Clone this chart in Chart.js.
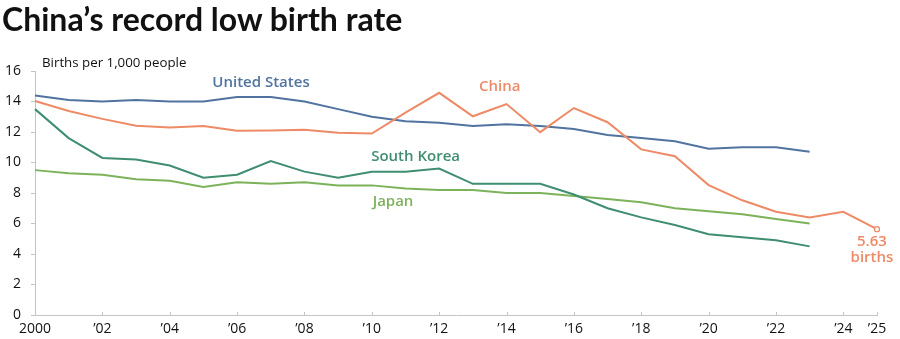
<!DOCTYPE html>
<html>
<head>
<meta charset="utf-8">
<script src="https://cdn.jsdelivr.net/npm/chart.js@4/dist/chart.umd.min.js"></script>
<style>
  html, body { margin: 0; padding: 0; background: #fff; }
  #wrap { position: relative; width: 900px; height: 339px; overflow: hidden; }
  #title { position: absolute; left: 2px; top: 0px; font-family: Lato, sans-serif; font-weight: 700; font-size: 32px; line-height: 38px; color: #111; white-space: nowrap; }
  #unit { position: absolute; left: 42px; top: 53px; font-family: "Open Sans", sans-serif; font-size: 13.3px; color: #111; white-space: nowrap; }
  canvas { position: absolute; left: 0; top: 0; }
</style>
</head>
<body>
<div id="wrap">
  <canvas id="c" width="900" height="339"></canvas>
  <div id="title">China’s record low birth rate</div>
  <div id="unit">Births per 1,000 people</div>
</div>
<script>
const years = [2000,2001,2002,2003,2004,2005,2006,2007,2008,2009,2010,2011,2012,2013,2014,2015,2016,2017,2018,2019,2020,2021,2022,2023,2024,2025];
const usValues = [14.4,14.1,14.0,14.1,14.0,14.0,14.3,14.3,14.0,13.5,13.0,12.7,12.6,12.4,12.5,12.4,12.2,11.8,11.6,11.4,10.9,11.0,11.0,10.7];
const chinaValues = [14.03,13.38,12.86,12.41,12.29,12.40,12.09,12.10,12.14,11.95,11.90,13.27,14.57,13.03,13.83,11.99,13.57,12.64,10.86,10.41,8.52,7.52,6.77,6.39,6.77,5.63];
const koreaValues = [13.5,11.6,10.3,10.2,9.8,9.0,9.2,10.1,9.4,9.0,9.4,9.4,9.6,8.6,8.6,8.6,7.9,7.0,6.4,5.9,5.3,5.1,4.9,4.5];
const japanValues = [9.5,9.3,9.2,8.9,8.8,8.4,8.7,8.6,8.7,8.5,8.5,8.3,8.2,8.2,8.0,8.0,7.8,7.6,7.4,7.0,6.8,6.6,6.3,6.0];
const xTicks = [2000,2002,2004,2006,2008,2010,2012,2014,2016,2018,2020,2022,2024,2025];
const yTicks = [0,2,4,6,8,10,12,14,16];

const seriesNames = ["United States","China","South Korea","Japan"];
const seriesColors = ["#50739f","#ee8a66","#3f8e70","#7cb35a"];
const seriesData = [usValues, chinaValues, koreaValues, japanValues];

function pts(vals){ return vals.map((v,i)=>({x:years[i], y:v})); }

// label annotations in data coordinates
const labels = [
  {text:"United States", x:2006.71, y:15.2, color:seriesColors[0]},
  {text:"China", x:2013.8, y:14.95, color:seriesColors[1]},
  {text:"South Korea", x:2011.3, y:10.36, color:seriesColors[2]},
  {text:"Japan", x:2010.63, y:7.41, color:seriesColors[3]},
  {text:"5.63", x:2024.85, y:4.82, color:seriesColors[1]},
  {text:"births", x:2024.85, y:3.77, color:seriesColors[1]}
];

const labelPlugin = {
  id:'labelPlugin',
  afterDatasetsDraw(chart){
    const ctx = chart.ctx, xs = chart.scales.x, ys = chart.scales.y;
    ctx.save();
    ctx.font = '600 15px "Open Sans", sans-serif';
    ctx.textAlign = 'center';
    ctx.textBaseline = 'middle';
    labels.forEach(l=>{
      ctx.fillStyle = l.color;
      ctx.fillText(l.text, xs.getPixelForValue(l.x), ys.getPixelForValue(l.y));
    });
    ctx.strokeStyle = '#c4c4c4';
    ctx.lineWidth = 1;
    const yb = ys.getPixelForValue(0);
    xTicks.forEach(t=>{
      const px = Math.round(xs.getPixelForValue(t)) + 0.5;
      ctx.beginPath(); ctx.moveTo(px, yb); ctx.lineTo(px, yb-3); ctx.stroke();
    });
    ctx.restore();
  }
};

const datasets = seriesData.map((vals,i)=>({
  label: seriesNames[i],
  data: pts(vals),
  borderColor: seriesColors[i],
  backgroundColor: seriesColors[i],
  borderWidth: 2,
  pointRadius: vals.map((v,j)=> (i===1 && j===vals.length-1) ? 2.5 : 0),
  pointBackgroundColor: '#fff',
  pointBorderColor: seriesColors[i],
  pointBorderWidth: 1.3,
  tension: 0,
  clip: false,
  order: i===1 ? 0 : 1
}));

new Chart(document.getElementById('c'), {
  type: 'line',
  data: { datasets },
  options: {
    responsive: false,
    animation: false,
    layout: { padding: { top: 71, right: 23, left: 0, bottom: 0 } },
    plugins: { legend: { display: false }, tooltip: { enabled: false }, title: { display: false } },
    scales: {
      x: {
        type: 'linear', min: 2000, max: 2025,
        afterBuildTicks(s){ s.ticks = xTicks.map(v=>({value:v})); },
        afterFit(s){ s.height = 24; },
        grid: { display: false, drawOnChartArea: false, drawTicks: false },
        border: { display: true, color: '#c4c4c4', width: 1 },
        ticks: {
          autoSkip: false, maxRotation: 0, padding: 6,
          font: { family: '"Open Sans", sans-serif', size: 14 }, color: '#111',
          callback(v){ return v === 2000 ? '2000' : '’' + String(v).slice(2); }
        }
      },
      y: {
        min: 0, max: 16,
        afterBuildTicks(s){ s.ticks = yTicks.map(v=>({value:v})); },
        afterFit(s){ s.width = 35; },
        grid: { drawOnChartArea: false, drawTicks: true, tickLength: 4, color: '#c4c4c4' },
        border: { display: true, color: '#c4c4c4', width: 1 },
        ticks: {
          padding: 10,
          font: { family: '"Open Sans", sans-serif', size: 14 }, color: '#111'
        }
      }
    }
  },
  plugins: [labelPlugin]
});
</script>
</body>
</html>
